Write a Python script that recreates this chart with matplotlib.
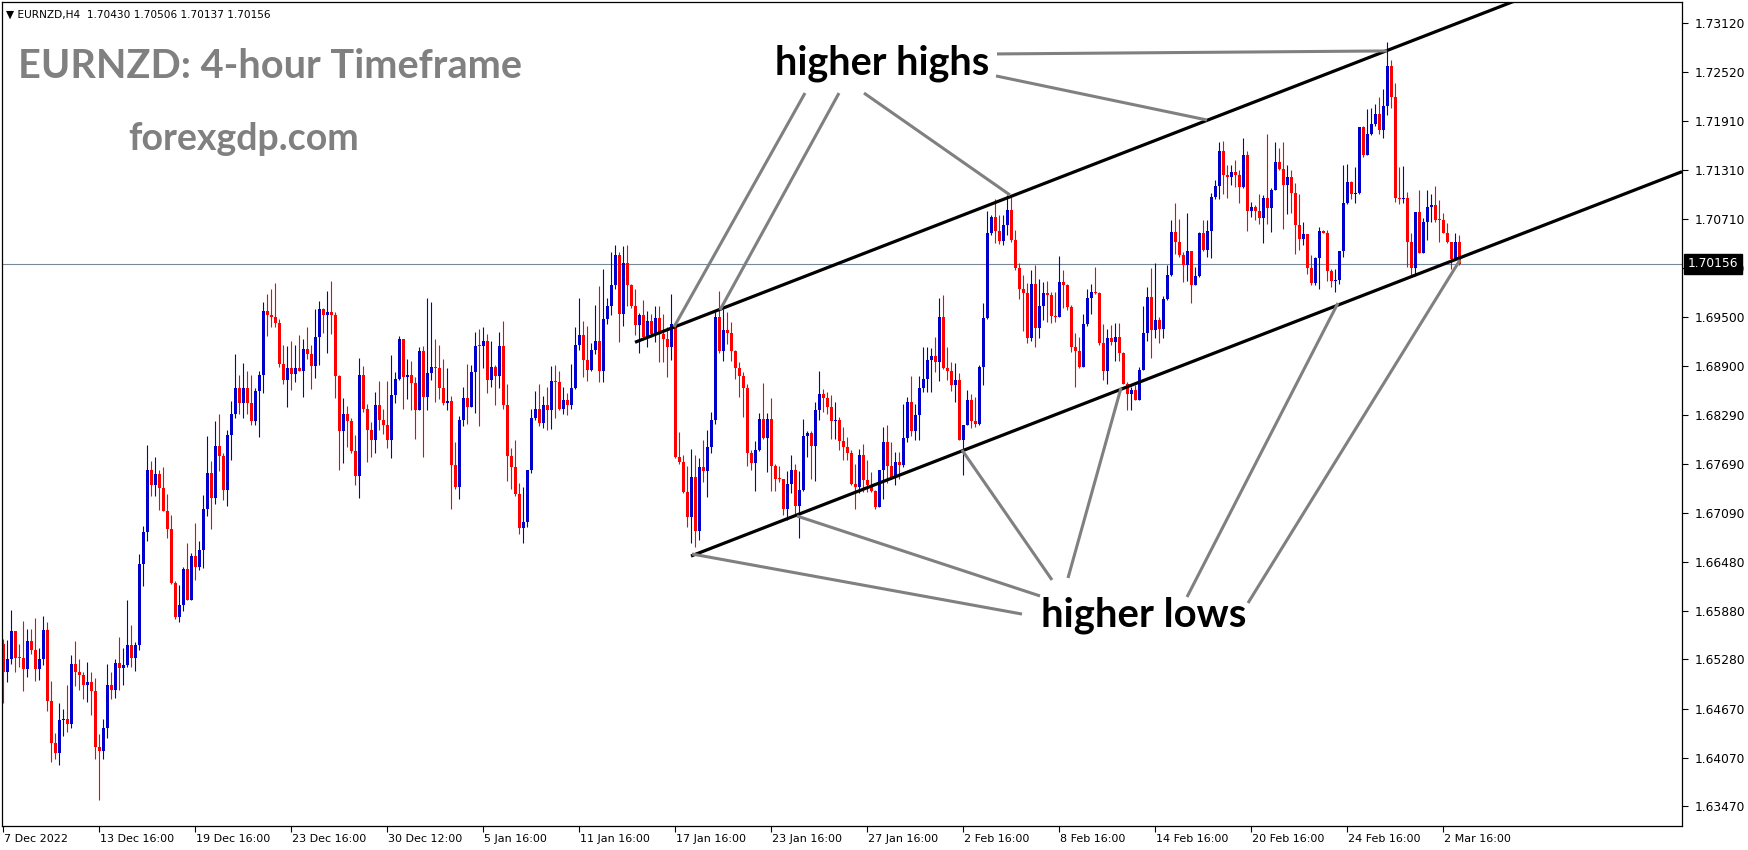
import numpy as np
import matplotlib.pyplot as plt
from matplotlib.transforms import blended_transform_factory, ScaledTranslation

# EURNZD H4 candles, prices in 1e-4 units (open = previous close)
first_open = 16547
close = [16512, 16528, 16563, 16530, 16530, 16516, 16551, 16540, 16516, 16529,
         16564, 16477, 16425, 16413, 16453, 16455, 16448, 16522, 16513, 16509,
         16497, 16500, 16489, 16420, 16415, 16444, 16497, 16490, 16524, 16518,
         16521, 16546, 16530, 16546, 16646, 16685, 16762, 16743, 16756, 16739,
         16711, 16689, 16622, 16580, 16595, 16640, 16601, 16655, 16642, 16663,
         16714, 16758, 16727, 16791, 16779, 16737, 16805, 16831, 16862, 16844,
         16863, 16844, 16822, 16859, 16879, 16957, 16953, 16950, 16943, 16892,
         16873, 16887, 16880, 16887, 16884, 16911, 16905, 16890, 16925, 16960,
         16952, 16956, 16952, 16877, 16809, 16830, 16822, 16785, 16754, 16878,
         16837, 16811, 16798, 16841, 16823, 16817, 16799, 16854, 16874, 16923,
         16876, 16878, 16869, 16835, 16908, 16851, 16881, 16888, 16887, 16862,
         16844, 16847, 16768, 16740, 16823, 16850, 16839, 16882, 16914, 16914,
         16921, 16872, 16889, 16877, 16914, 16842, 16779, 16765, 16732, 16690,
         16698, 16761, 16825, 16837, 16820, 16841, 16836, 16871, 16870, 16837,
         16848, 16842, 16863, 16916, 16928, 16897, 16885, 16909, 16921, 16884,
         16948, 16963, 16990, 17027, 16954, 17016, 16989, 16963, 16940, 16952,
         16925, 16945, 16929, 16949, 16929, 16923, 16913, 16942, 16778, 16771,
         16735, 16704, 16753, 16686, 16765, 16760, 16790, 16823, 16950, 16908,
         16934, 16930, 16908, 16887, 16877, 16863, 16783, 16770, 16786, 16824,
         16801, 16824, 16767, 16750, 16750, 16714, 16744, 16762, 16717, 16737,
         16804, 16807, 16791, 16835, 16855, 16850, 16839, 16822, 16823, 16797,
         16790, 16783, 16744, 16741, 16780, 16749, 16743, 16736, 16716, 16762,
         16796, 16767, 16753, 16771, 16768, 16801, 16845, 16809, 16829, 16862,
         16874, 16897, 16902, 16895, 16950, 16887, 16883, 16866, 16872, 16799,
         16817, 16848, 16822, 16818, 16889, 16949, 17053, 17073, 17056, 17044,
         17063, 17082, 17045, 17010, 16984, 16980, 16924, 16991, 16936, 16963,
         16980, 16977, 16951, 16950, 16993, 16989, 16962, 16913, 16908, 16888,
         16942, 16974, 16981, 16980, 16918, 16884, 16924, 16919, 16926, 16906,
         16868, 16855, 16860, 16848, 16885, 16930, 16975, 16934, 16946, 16935,
         16972, 17002, 17055, 17043, 17026, 17014, 17031, 16989, 17000, 17053,
         17033, 17056, 17098, 17111, 17154, 17125, 17122, 17129, 17125, 17110,
         17150, 17081, 17085, 17081, 17072, 17097, 17084, 17106, 17141, 17133,
         17113, 17123, 17103, 17063, 17046, 17052, 17010, 16992, 17023, 17056,
         17054, 17007, 16995, 16996, 17031, 17091, 17116, 17101, 17103, 17184,
         17150, 17176, 17188, 17200, 17180, 17210, 17259, 17221, 17097, 17096,
         17097, 17042, 17010, 17080, 17029, 17067, 17085, 17088, 17070, 17069,
         17053, 17042, 17021, 17043, 17016]
high = [16553, 16552, 16589, 16563, 16547, 16576, 16566, 16566, 16579, 16542,
        16582, 16574, 16501, 16438, 16475, 16467, 16497, 16533, 16551, 16528,
        16513, 16525, 16512, 16505, 16436, 16455, 16522, 16513, 16528, 16556,
        16542, 16601, 16570, 16550, 16658, 16693, 16792, 16772, 16777, 16762,
        16765, 16732, 16706, 16625, 16620, 16642, 16671, 16659, 16696, 16674,
        16731, 16803, 16772, 16822, 16831, 16783, 16811, 16846, 16905, 16878,
        16893, 16883, 16878, 16863, 16884, 16968, 16978, 16984, 16992, 16948,
        16915, 16914, 16920, 16916, 16928, 16923, 16938, 16916, 16960, 16970,
        16961, 16982, 16995, 16956, 16879, 16850, 16840, 16826, 16805, 16900,
        16890, 16843, 16821, 16858, 16871, 16837, 16871, 16903, 16882, 16927,
        16920, 16898, 16896, 16876, 16913, 16914, 16973, 16969, 16923, 16915,
        16898, 16887, 16853, 16796, 16828, 16864, 16892, 16891, 16931, 16935,
        16938, 16929, 16920, 16891, 16932, 16945, 16867, 16789, 16798, 16746,
        16740, 16762, 16837, 16859, 16868, 16853, 16864, 16890, 16891, 16884,
        16864, 16856, 16892, 16938, 16974, 16945, 16939, 16918, 16965, 16988,
        17009, 16973, 17030, 17039, 17030, 17037, 17039, 16991, 16985, 16955,
        16971, 16958, 16954, 16963, 16963, 16954, 16938, 16979, 16942, 16808,
        16780, 16767, 16787, 16780, 16776, 16799, 16811, 16833, 16956, 16982,
        16960, 16956, 16944, 16909, 16895, 16882, 16867, 16786, 16797, 16832,
        16869, 16832, 16850, 16769, 16767, 16750, 16760, 16780, 16769, 16760,
        16824, 16809, 16809, 16845, 16884, 16861, 16858, 16854, 16845, 16827,
        16815, 16802, 16786, 16769, 16787, 16794, 16774, 16759, 16737, 16762,
        16815, 16817, 16796, 16784, 16784, 16843, 16852, 16877, 16843, 16877,
        16913, 16913, 16912, 16926, 16973, 16977, 16913, 16895, 16893, 16881,
        16817, 16860, 16855, 16852, 16891, 16967, 17081, 17076, 17095, 17076,
        17076, 17100, 17100, 17057, 17016, 17002, 16992, 17008, 17014, 16997,
        16993, 16995, 16981, 16981, 17025, 17008, 16991, 16965, 16930, 16926,
        16954, 16985, 16991, 17012, 16981, 16942, 16935, 16940, 16943, 16943,
        16907, 16870, 16864, 16866, 16888, 16963, 16987, 17011, 17016, 16950,
        16976, 17014, 17069, 17090, 17071, 17030, 17078, 17031, 17012, 17055,
        17069, 17070, 17103, 17119, 17166, 17167, 17137, 17137, 17143, 17131,
        17170, 17154, 17092, 17088, 17102, 17100, 17176, 17109, 17166, 17158,
        17166, 17137, 17131, 17115, 17102, 17067, 17047, 17026, 17024, 17061,
        17057, 17057, 17009, 17009, 17031, 17137, 17139, 17118, 17135, 17184,
        17185, 17206, 17208, 17213, 17221, 17231, 17289, 17267, 17239, 17135,
        17136, 17104, 17053, 17080, 17106, 17072, 17107, 17102, 17111, 17094,
        17078, 17066, 17043, 17053, 17051]
low = [16474, 16500, 16523, 16512, 16519, 16489, 16507, 16535, 16502, 16503,
       16521, 16464, 16402, 16406, 16398, 16434, 16439, 16443, 16495, 16490,
       16479, 16476, 16460, 16406, 16355, 16406, 16431, 16479, 16481, 16490,
       16497, 16519, 16519, 16514, 16540, 16619, 16674, 16729, 16729, 16712,
       16711, 16678, 16621, 16578, 16574, 16588, 16601, 16602, 16626, 16638,
       16641, 16705, 16689, 16719, 16760, 16724, 16717, 16774, 16826, 16830,
       16825, 16830, 16817, 16817, 16802, 16856, 16927, 16938, 16938, 16889,
       16868, 16839, 16860, 16870, 16883, 16851, 16898, 16861, 16875, 16891,
       16930, 16906, 16929, 16850, 16761, 16770, 16790, 16782, 16743, 16727,
       16833, 16771, 16778, 16782, 16811, 16806, 16789, 16776, 16844, 16872,
       16837, 16849, 16836, 16800, 16839, 16778, 16836, 16872, 16845, 16849,
       16842, 16836, 16713, 16738, 16726, 16816, 16818, 16845, 16832, 16816,
       16887, 16856, 16864, 16841, 16863, 16837, 16748, 16738, 16729, 16683,
       16672, 16691, 16758, 16823, 16816, 16813, 16811, 16812, 16825, 16836,
       16831, 16829, 16837, 16861, 16909, 16876, 16871, 16884, 16905, 16870,
       16870, 16942, 16952, 16985, 16919, 16939, 16963, 16961, 16928, 16906,
       16922, 16913, 16925, 16919, 16895, 16895, 16876, 16897, 16776, 16769,
       16733, 16691, 16671, 16667, 16675, 16747, 16728, 16783, 16818, 16906,
       16896, 16917, 16896, 16874, 16851, 16827, 16767, 16762, 16736, 16785,
       16800, 16759, 16736, 16736, 16747, 16706, 16700, 16733, 16706, 16678,
       16736, 16777, 16751, 16748, 16823, 16833, 16831, 16800, 16800, 16786,
       16774, 16774, 16743, 16714, 16733, 16735, 16735, 16735, 16714, 16716,
       16726, 16745, 16751, 16743, 16750, 16765, 16796, 16803, 16798, 16798,
       16858, 16858, 16858, 16882, 16871, 16886, 16872, 16859, 16845, 16798,
       16755, 16822, 16813, 16815, 16817, 16866, 16948, 17051, 17041, 17040,
       17039, 17051, 17043, 17008, 16972, 16933, 16918, 16921, 16913, 16924,
       16946, 16944, 16943, 16944, 16950, 16961, 16959, 16907, 16864, 16887,
       16888, 16939, 16954, 16979, 16915, 16872, 16868, 16915, 16896, 16896,
       16868, 16836, 16836, 16848, 16848, 16885, 16921, 16900, 16924, 16918,
       16924, 16971, 17000, 17028, 17024, 16993, 16995, 16967, 16989, 16999,
       17031, 17024, 17023, 17096, 17096, 17102, 17097, 17113, 17110, 17090,
       17109, 17056, 17073, 17070, 17065, 17041, 17065, 17055, 17106, 17131,
       17059, 17077, 17078, 17028, 17032, 17039, 17003, 16989, 16989, 16985,
       17053, 16995, 16987, 16981, 16991, 17024, 17089, 17096, 17090, 17102,
       17147, 17150, 17174, 17185, 17176, 17170, 17199, 17207, 17092, 17089,
       17091, 17012, 17001, 17000, 17029, 17029, 17045, 17067, 17067, 17042,
       17053, 17041, 17009, 17020, 17014]

# last bar quote shown in the chart header: open, high, low, close
last_quote = [1.70430, 1.70506, 1.70137, 1.70156]

x_tick_bars = [0, 24, 48, 72, 96, 120, 144, 168, 192, 216, 240, 264, 288, 312, 336, 360]
x_tick_labels = ['7 Dec 2022', '13 Dec 16:00', '19 Dec 16:00', '23 Dec 16:00',
                 '30 Dec 12:00', '5 Jan 16:00', '11 Jan 16:00', '17 Jan 16:00',
                 '23 Jan 16:00', '27 Jan 16:00', '2 Feb 16:00', '8 Feb 16:00',
                 '14 Feb 16:00', '20 Feb 16:00', '24 Feb 16:00', '2 Mar 16:00']
y_ticks = [1.73120, 1.72520, 1.71910, 1.71310, 1.70710, 1.70100, 1.69500, 1.68900,
           1.68290, 1.67690, 1.67090, 1.66480, 1.65880, 1.65280, 1.64670, 1.64070,
           1.63470]

# trend channel anchors (bar index, price)
upper_channel = [(158, 1.69189), (346, 1.72784)]
lower_channel = [(172, 1.66555), (369.25, 1.70326)]

# grey pointer lines (bar index, price)
highs_pointers = [[(248.5, 1.72742), (346, 1.72779)],
                  [(248.25, 1.72471), (301, 1.71928)],
                  [(200.5, 1.72260), (167.75, 1.69377)],
                  [(209, 1.72260), (179.25, 1.69587)],
                  [(215.25, 1.72260), (251.75, 1.71004)]]
lows_pointers = [[(254.75, 1.65840), (172.25, 1.66580)],
                 [(259.25, 1.66063), (198.5, 1.67048)],
                 [(262.25, 1.66260), (239.75, 1.67862)],
                 [(266.25, 1.66284), (279.5, 1.68626)],
                 [(296, 1.66050), (333.75, 1.69673)],
                 [(311.25, 1.65976), (364.25, 1.70203)]]

BLUE = '#0000CC'
RED = '#FF0000'

c = np.array(close) / 1e4
o = np.concatenate([[first_open / 1e4], c[:-1]])
h = np.array(high) / 1e4
l = np.array(low) / 1e4
o[-1], h[-1], l[-1], c[-1] = last_quote
h = np.maximum(h, np.maximum(o, c))
l = np.minimum(l, np.minimum(o, c))
x = np.arange(len(c))
up = c > o

fig = plt.figure(figsize=(17.49, 8.5), dpi=100)
ax = fig.add_axes([2 / 1749, 24 / 850, 1680 / 1749, 824 / 850])
xmin, xmax = -0.25, 419.75
ax.set_xlim(xmin, xmax)
ax.set_ylim(1.632283, 1.733820)

for mask, col in ((up, BLUE), (~up, RED)):
    ax.vlines(x[mask], l[mask], h[mask], color=col, lw=0.8, zorder=2)
    body = np.maximum(np.abs(c - o), 0.00012)
    ax.bar(x[mask], body[mask], bottom=np.minimum(o, c)[mask], width=0.75,
           color=col, linewidth=0, zorder=2)

# bid line
ax.axhline(c[-1], color='#778899', lw=0.8, zorder=1)


def ray(p1, p2):
    (x1, y1), (x2, y2) = p1, p2
    k = (y2 - y1) / (x2 - x1)
    return [x1, xmax], [y1, y1 + k * (xmax - x1)]


for ch in (upper_channel, lower_channel):
    xs, ys = ray(*ch)
    ax.plot(xs, ys, color='black', lw=2.3, solid_capstyle='butt', zorder=3)

for seg in highs_pointers + lows_pointers:
    ax.plot([seg[0][0], seg[1][0]], [seg[0][1], seg[1][1]], color='#808080',
            lw=2.2, solid_capstyle='butt', zorder=3)

ax.text(193, 1.72483, 'higher highs', fontsize=28.5, fontweight='bold',
        family='Lato', color='black', va='baseline', ha='left', zorder=4)
ax.text(259.5, 1.65681, 'higher lows', fontsize=28.8, fontweight='bold',
        family='Lato', color='black', va='baseline', ha='left', zorder=4)

ax.text(0.0095, 0.9078, 'EURNZD: 4-hour Timeframe', transform=ax.transAxes,
        fontsize=28.5, fontweight='bold', family='Lato', color='#808080',
        va='baseline', ha='left')
ax.text(0.075, 0.8204, 'forexgdp.com', transform=ax.transAxes,
        fontsize=27, fontweight='bold', family='Lato', color='#808080',
        va='baseline', ha='left')
header = '\u25bc EURNZD,H4  ' + ' '.join(f'{v:.5f}' for v in last_quote)
ax.text(0.0024, 0.985, header, transform=ax.transAxes, fontsize=7.6,
        color='black', va='center', ha='left')

# axes styling
for sp in ax.spines.values():
    sp.set_color('black')
    sp.set_linewidth(0.9)
ax.yaxis.tick_right()
ax.set_yticks(y_ticks)
ax.set_yticklabels([f'{v:.5f}' for v in y_ticks])
ax.tick_params(axis='y', length=4, width=0.8, pad=5, labelsize=8.8)
ax.set_xticks(x_tick_bars)
ax.set_xticklabels(x_tick_labels)
ax.tick_params(axis='x', length=4, width=0.8, pad=2, labelsize=8)
shift = ScaledTranslation(1 / 100, 0, fig.dpi_scale_trans)
for lbl in ax.get_xticklabels():
    lbl.set_horizontalalignment('left')
    lbl.set_transform(lbl.get_transform() + shift)

tag = blended_transform_factory(ax.transAxes, ax.transData)
ax.text(1.0, c[-1], f'{c[-1]:.5f}',
        transform=tag + ScaledTranslation(6 / 100, 0, fig.dpi_scale_trans),
        fontsize=8.8, color='white', va='center', ha='left', zorder=10, clip_on=False,
        bbox=dict(boxstyle='square,pad=0.3', fc='black', ec='black'))

fig.savefig('out.png', dpi=100)
